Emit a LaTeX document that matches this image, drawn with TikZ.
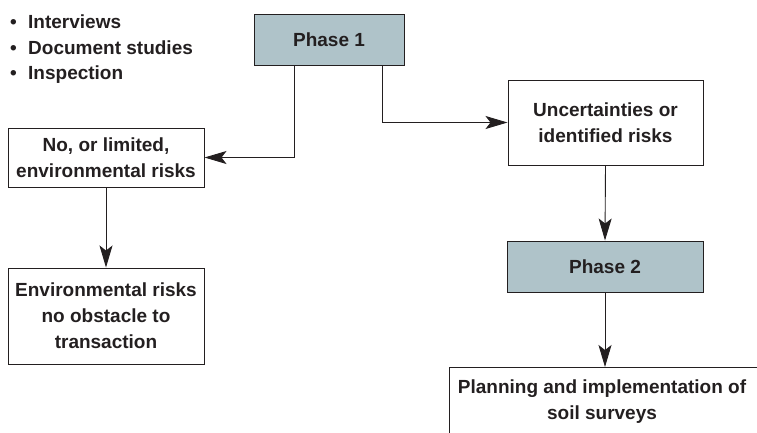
\documentclass[tikz,border=0pt]{standalone}
\usepackage{fontspec}
\setmainfont{Liberation Sans}
\usetikzlibrary{arrows.meta,calc}
\definecolor{phasefill}{HTML}{AFC3C9}
\definecolor{inkgray}{HTML}{231F20}

\begin{document}
\begin{tikzpicture}[x=1pt,y=-1pt,
	box/.style={draw=inkgray, line width=1pt, align=center, inner sep=0pt, text=inkgray,
		font=\bfseries\fontsize{19}{26}\selectfont},
	phase/.style={box, fill=phasefill},
	link/.style={draw=inkgray, line width=0.9pt, -{Stealth[length=22pt,width=13pt,inset=5pt]}}]
	\clip (0,0) rectangle (757,432);
	\useasboundingbox (0,0) rectangle (757,432);
	%\draw[help lines, step=50] (0,0) grid (757,432);
	\node[anchor=north west, inner sep=0pt, align=left, text=inkgray,
		font=\bfseries\fontsize{19}{25.5}\selectfont] (methods) at (10,15)
		{\makebox[18pt][l]{\textbullet}Interviews\\
		 \makebox[18pt][l]{\textbullet}Document studies\\
		 \makebox[18pt][l]{\textbullet}Inspection};
	\node[phase, minimum width=150, minimum height=51] (phaseA) at (329,39.5) {Phase 1};
	\node[box, minimum width=196, minimum height=59] (lowrisk) at (106,157.5) {No, or limited,\\environmental risks};
	\node[box, minimum width=195, minimum height=85] (uncert) at (605.5,122.5) {Uncertainties or\\identified risks};
	\node[phase, minimum width=196, minimum height=51] (phaseB) at (605,266.5) {Phase 2};
	\node[box, minimum width=196, minimum height=96] (noobst) at (106,316) {Environmental risks\\no obstacle to\\transaction};
	\node[box, minimum width=330, minimum height=95, anchor=north west] (plan) at (449,367) {};
	\node[inner sep=0pt, align=center, text=inkgray, font=\bfseries\fontsize{19}{26}\selectfont]
		(plantext) at (602,402) {Planning and implementation of\\soil surveys};

	\draw[link] ($(phaseA.south west)+(41,0)$) |- (lowrisk.east);
	\draw[link] ($(phaseA.south east)+(-22,0)$) |- (uncert.west);
	\draw[link] (lowrisk.south) -- (noobst.north);
	\draw[link] (uncert.south) -- (phaseB.north);
	\draw[link] (phaseB.south) -- (phaseB.south |- plan.north);
\end{tikzpicture}
\end{document}
